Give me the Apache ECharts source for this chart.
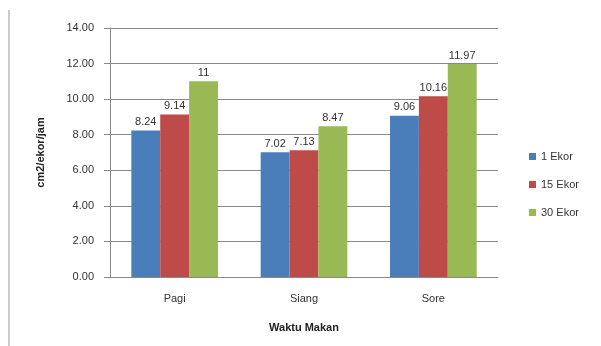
<!DOCTYPE html>
<html style="height: 100%">
<head>
<meta charset="utf-8">
</head>
<body style="height: 100%; margin: 0; background: #fff">
<div id="container" style="height: 100%"></div>
<script type="text/javascript" src="https://cdn.jsdelivr.net/npm/echarts@6/dist/echarts.min.js"></script>
<script type="text/javascript">
var categories = ['Pagi', 'Siang', 'Sore'];
var seriesNames = ['1 Ekor', '15 Ekor', '30 Ekor'];
var ekor1 = [8.24, 7.02, 9.06];
var ekor15 = [9.14, 7.13, 10.16];
var ekor30 = [11, 8.47, 11.97];
var yTicks = [0, 2, 4, 6, 8, 10, 12, 14];
var colors = ['#4a7ebb', '#be4b48', '#98b954'];

var dom = document.getElementById('container');
var myChart = echarts.init(dom);

function makeSeries(name, data, color) {
    return {
        name: name,
        type: 'bar',
        data: data,
        barGap: 0,
        barCategoryGap: '33%',
        itemStyle: { color: color },
        label: {
            show: true,
            position: 'top',
            distance: 3,
            color: '#333',
            fontSize: 11,
            fontFamily: 'Liberation Sans'
        }
    };
}

var option = {
    animation: false,
    backgroundColor: '#fff',
    textStyle: { fontFamily: 'Liberation Sans' },
    grid: { left: 110, right: 103, top: 28, bottom: 69 },
    legend: {
        orient: 'vertical',
        left: 524,
        top: 146,
        itemWidth: 7,
        itemHeight: 7,
        itemGap: 17,
        icon: 'rect',
        textStyle: { fontSize: 11, color: '#333' },
        data: seriesNames
    },
    graphic: [{
        type: 'line',
        shape: { x1: 9, y1: 10, x2: 9, y2: 346 },
        style: { stroke: '#999', lineWidth: 1 }
    }],
    xAxis: {
        type: 'category',
        data: categories,
        name: 'Waktu Makan',
        nameLocation: 'middle',
        nameGap: 45,
        nameTextStyle: { fontWeight: 'bold', fontSize: 11, color: '#222' },
        axisLine: { lineStyle: { color: '#888' } },
        axisTick: { show: false },
        axisLabel: { fontSize: 11, color: '#333', margin: 16 }
    },
    yAxis: {
        type: 'value',
        min: yTicks[0],
        max: yTicks[yTicks.length - 1],
        interval: 2,
        name: 'cm2/ekor/jam',
        nameLocation: 'middle',
        nameGap: 64,
        nameTextStyle: { fontWeight: 'bold', fontSize: 11, color: '#222' },
        axisLine: { show: true, lineStyle: { color: '#888' } },
        axisTick: { show: true, length: 6, lineStyle: { color: '#888' } },
        axisLabel: {
            fontSize: 11,
            color: '#333',
            margin: 16,
            formatter: function (v) { return v.toFixed(2); }
        },
        splitLine: { lineStyle: { color: '#888' } }
    },
    series: [
        makeSeries(seriesNames[0], ekor1, colors[0]),
        makeSeries(seriesNames[1], ekor15, colors[1]),
        makeSeries(seriesNames[2], ekor30, colors[2])
    ]
};

myChart.setOption(option, true);
</script>
</body>
</html>
